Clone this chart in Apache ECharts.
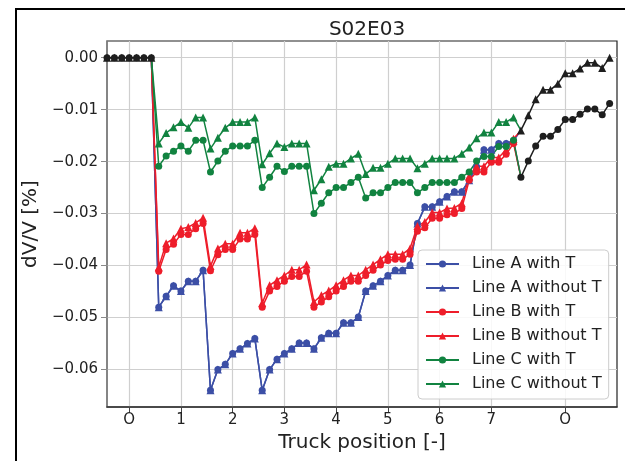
<!DOCTYPE html>
<html>
<head>
<meta charset="utf-8">
<script src="https://cdn.jsdelivr.net/npm/echarts@6/dist/echarts.min.js"></script>
<style>
html,body{margin:0;padding:0;background:#fff;}
#chart{width:625px;height:461px;}
</style>
</head>
<body>
<div id="chart"></div>
<script>
// x-axis: sample index; ticks at truck positions
const xTickPos = [3, 10, 17, 24, 31, 38, 45, 52, 62];
const xTickLabels = ['O', '1', '2', '3', '4', '5', '6', '7', 'O'];
const yTicks = [-0.06, -0.05, -0.04, -0.03, -0.02, -0.01, 0.0];

// truck off the bridge (black): before and after
const offStartIdx = [0, 1, 2, 3, 4, 5, 6];
const offStartVal = [0, 0, 0, 0, 0, 0, 0];
const offEndIdx = [56, 57, 58, 59, 60, 61, 62, 63, 64, 65, 66, 67, 68];
const offEndWithT = [-0.0230, -0.0199, -0.0170, -0.0151, -0.0151, -0.0138, -0.0119, -0.0119, -0.0109, -0.0099, -0.0099, -0.0110, -0.0088];
const offEndWithoutT = [-0.0140, -0.0111, -0.0080, -0.0062, -0.0062, -0.0050, -0.0030, -0.0030, -0.0021, -0.0010, -0.0010, -0.0020, 0.0000];

// truck on the bridge: indices 7..55
const onFirstIdx = 7;
const lineAWithT = [-0.0480, -0.0459, -0.0439, -0.0449, -0.0430, -0.0430, -0.0409,
  -0.0640, -0.0600, -0.0590, -0.0569, -0.0560, -0.0550, -0.0540,
  -0.0640, -0.0600, -0.0580, -0.0569, -0.0560, -0.0549, -0.0549,
  -0.0560, -0.0539, -0.0530, -0.0530, -0.0510, -0.0510, -0.0499,
  -0.0449, -0.0439, -0.0430, -0.0419, -0.0409, -0.0409, -0.0399,
  -0.0319, -0.0287, -0.0287, -0.0277, -0.0267, -0.0258, -0.0258,
  -0.0236, -0.0210, -0.0177, -0.0177, -0.0165, -0.0165, -0.0160];
const lineAWithoutT = [-0.0480, -0.0459, -0.0439, -0.0449, -0.0430, -0.0430, -0.0409,
  -0.0640, -0.0600, -0.0590, -0.0569, -0.0560, -0.0550, -0.0540,
  -0.0640, -0.0600, -0.0580, -0.0569, -0.0560, -0.0549, -0.0549,
  -0.0560, -0.0539, -0.0530, -0.0530, -0.0510, -0.0510, -0.0499,
  -0.0449, -0.0439, -0.0430, -0.0419, -0.0409, -0.0409, -0.0399,
  -0.0319, -0.0287, -0.0287, -0.0277, -0.0267, -0.0258, -0.0258,
  -0.0236, -0.0210, -0.0177, -0.0177, -0.0165, -0.0165, -0.0160];
const lineBWithT = [-0.0411, -0.0369, -0.0359, -0.0340, -0.0340, -0.0329, -0.0319,
  -0.0410, -0.0379, -0.0369, -0.0369, -0.0349, -0.0349, -0.0340,
  -0.0480, -0.0449, -0.0440, -0.0430, -0.0421, -0.0421, -0.0411,
  -0.0480, -0.0470, -0.0460, -0.0449, -0.0440, -0.0430, -0.0430,
  -0.0419, -0.0409, -0.0399, -0.0390, -0.0388, -0.0388, -0.0378,
  -0.0334, -0.0327, -0.0309, -0.0309, -0.0302, -0.0300, -0.0290,
  -0.0236, -0.0220, -0.0220, -0.0201, -0.0201, -0.0186, -0.0165];
const lineBWithoutT = [-0.0403, -0.0357, -0.0348, -0.0329, -0.0326, -0.0318, -0.0308,
  -0.0401, -0.0367, -0.0358, -0.0358, -0.0337, -0.0337, -0.0328,
  -0.0472, -0.0438, -0.0428, -0.0419, -0.0408, -0.0408, -0.0398,
  -0.0470, -0.0457, -0.0448, -0.0438, -0.0428, -0.0419, -0.0419,
  -0.0408, -0.0398, -0.0388, -0.0378, -0.0378, -0.0378, -0.0367,
  -0.0324, -0.0316, -0.0298, -0.0298, -0.0290, -0.0289, -0.0280,
  -0.0228, -0.0209, -0.0209, -0.0192, -0.0192, -0.0177, -0.0156];
const lineCWithT = [-0.0209, -0.0189, -0.0180, -0.0170, -0.0180, -0.0159, -0.0159,
  -0.0220, -0.0199, -0.0180, -0.0170, -0.0170, -0.0170, -0.0159,
  -0.0250, -0.0230, -0.0209, -0.0219, -0.0209, -0.0209, -0.0209,
  -0.0300, -0.0280, -0.0260, -0.0250, -0.0250, -0.0240, -0.0230,
  -0.0270, -0.0260, -0.0260, -0.0250, -0.0240, -0.0240, -0.0240,
  -0.0260, -0.0250, -0.0240, -0.0240, -0.0240, -0.0240, -0.0230,
  -0.0220, -0.0199, -0.0190, -0.0190, -0.0171, -0.0171, -0.0159];
const lineCWithoutT = [-0.0165, -0.0145, -0.0134, -0.0124, -0.0135, -0.0115, -0.0115,
  -0.0175, -0.0154, -0.0135, -0.0124, -0.0124, -0.0124, -0.0115,
  -0.0205, -0.0184, -0.0165, -0.0172, -0.0165, -0.0165, -0.0165,
  -0.0255, -0.0234, -0.0210, -0.0204, -0.0204, -0.0194, -0.0185,
  -0.0224, -0.0212, -0.0212, -0.0204, -0.0194, -0.0194, -0.0194,
  -0.0213, -0.0204, -0.0194, -0.0194, -0.0194, -0.0194, -0.0185,
  -0.0173, -0.0155, -0.0144, -0.0144, -0.0124, -0.0124, -0.0115];

const seriesNames = ['Line A with T', 'Line A without T', 'Line B with T', 'Line B without T', 'Line C with T', 'Line C without T'];
const COL_A = '#3c4fa6', COL_B = '#ee1d2a', COL_C = '#118340', COL_K = '#1e1e1e';

function onSeries(name, vals, color, symbol, endVal) {
  const data = [{ value: [offStartIdx[offStartIdx.length - 1], offStartVal[offStartVal.length - 1]], symbol: 'none' }];
  vals.forEach((v, i) => data.push([onFirstIdx + i, v]));
  data.push({ value: [offEndIdx[0], endVal], symbol: 'none' });
  return {
    name: name, type: 'line', data: data, symbol: symbol,
    symbolSize: symbol === 'circle' ? 7 : 8, showAllSymbol: true,
    lineStyle: { color: color, width: 1.5 }, itemStyle: { color: color },
    emphasis: { disabled: true }
  };
}
function offSeries(idx, vals, symbol) {
  return {
    type: 'line', data: idx.map((x, i) => [x, vals[i]]), symbol: symbol,
    symbolSize: symbol === 'circle' ? 7 : 8, showAllSymbol: true,
    lineStyle: { color: COL_K, width: 1.5 }, itemStyle: { color: COL_K },
    emphasis: { disabled: true }
  };
}

const fmtY = v => { const r = Math.round(v * 100) / 100; return r < 0 ? '\u2212' + Math.abs(r).toFixed(2) : r.toFixed(2); };

const chart = echarts.init(document.getElementById('chart'), null, { renderer: 'canvas' });
chart.setOption({
  animation: false,
  backgroundColor: '#ffffff',
  title: {
    text: 'S02E03', left: 362, textAlign: 'center', top: 15,
    textStyle: { fontFamily: 'DejaVu Sans', fontSize: 20, fontWeight: 'normal', color: '#222' }
  },
  graphic: [{
    type: 'rect', shape: { x: 16, y: 9, width: 700, height: 600 },
    style: { fill: 'none', stroke: '#000', lineWidth: 2 }, silent: true
  }],
  grid: { left: 107, right: 8, top: 41, bottom: 54, show: true, borderColor: '#222', borderWidth: 1.2, containLabel: false },
  legend: {
    data: seriesNames, orient: 'vertical', left: 418, top: 250,
    itemWidth: 33, itemHeight: 9, itemGap: 8,
    padding: [6, 7, 7, 7],
    backgroundColor: 'rgba(255,255,255,0.85)', borderColor: '#cccccc', borderWidth: 1, borderRadius: 4,
    textStyle: { fontFamily: 'DejaVu Sans', fontSize: 16, color: '#222', lineHeight: 16, padding: [0, 0, 0, 8] }
  },
  xAxis: {
    type: 'value', min: 0, max: 69,
    name: 'Truck position [-]', nameLocation: 'middle', nameGap: 24,
    nameTextStyle: { fontFamily: 'DejaVu Sans', fontSize: 20, color: '#222' },
    axisLine: { onZero: false, lineStyle: { color: '#333', width: 1.5 } },
    axisTick: { show: true, inside: false, length: 6, lineStyle: { color: '#444', width: 1 }, customValues: xTickPos },
    axisLabel: {
      customValues: xTickPos, margin: 6,
      fontFamily: 'DejaVu Sans', fontSize: 15, color: '#222',
      formatter: v => xTickLabels[xTickPos.indexOf(Math.round(v))]
    },
    splitLine: { show: true, lineStyle: { color: '#cfcfcf', width: 1.2 } }
  },
  yAxis: {
    type: 'value', min: -0.0672, max: 0.0032,
    name: 'dV/V [%]', nameLocation: 'middle', nameGap: 55, nameRotate: 90,
    nameTextStyle: { fontFamily: 'DejaVu Sans', fontSize: 20, color: '#222' },
    axisLine: { show: true, onZero: false, lineStyle: { color: '#8a8a8a', width: 1.5 } },
    axisTick: { show: true, inside: false, length: 6, lineStyle: { color: '#8a8a8a', width: 1 }, customValues: yTicks },
    axisLabel: { customValues: yTicks, margin: 9, fontFamily: 'DejaVu Sans', fontSize: 15, color: '#222', formatter: fmtY },
    splitLine: { show: true, lineStyle: { color: '#cfcfcf', width: 1.2 } }
  },
  series: [
    onSeries(seriesNames[0], lineAWithT, COL_A, 'circle', offEndWithT[0]),
    onSeries(seriesNames[1], lineAWithoutT, COL_A, 'triangle', offEndWithoutT[0]),
    onSeries(seriesNames[2], lineBWithT, COL_B, 'circle', offEndWithT[0]),
    onSeries(seriesNames[3], lineBWithoutT, COL_B, 'triangle', offEndWithoutT[0]),
    onSeries(seriesNames[4], lineCWithT, COL_C, 'circle', offEndWithT[0]),
    onSeries(seriesNames[5], lineCWithoutT, COL_C, 'triangle', offEndWithoutT[0]),
    offSeries(offStartIdx, offStartVal, 'circle'),
    offSeries(offStartIdx, offStartVal, 'triangle'),
    offSeries(offEndIdx, offEndWithT, 'circle'),
    offSeries(offEndIdx, offEndWithoutT, 'triangle')
  ]
});
</script>
</body>
</html>
